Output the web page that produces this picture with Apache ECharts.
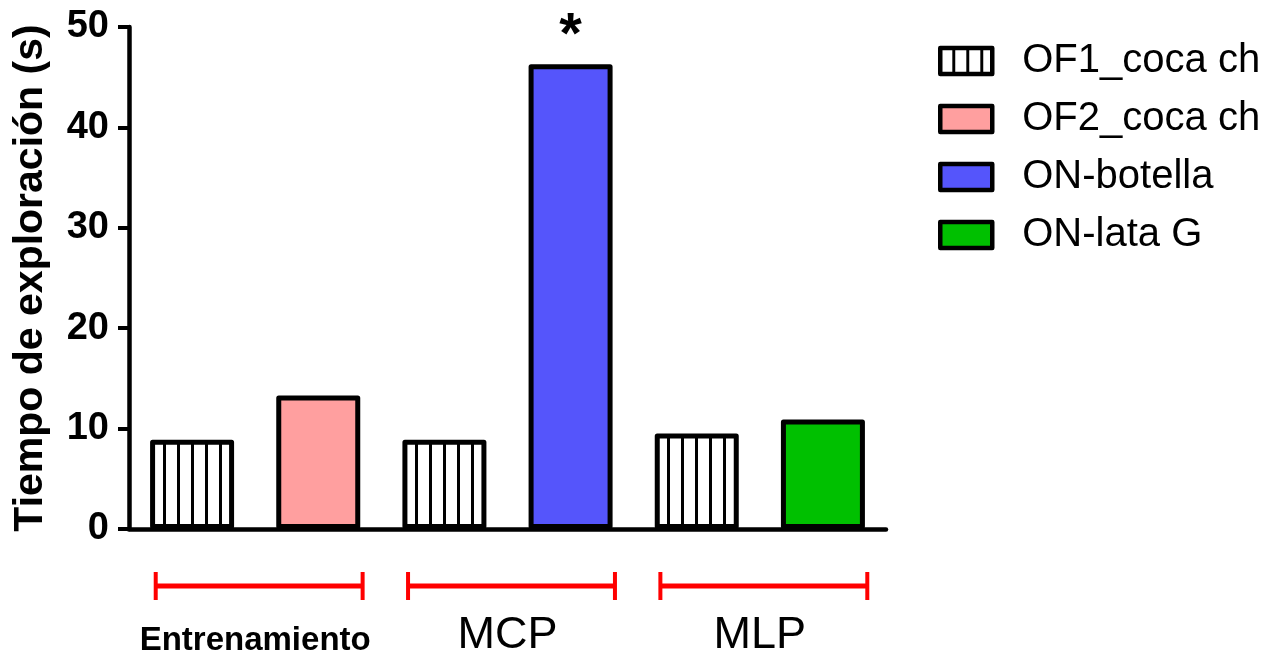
<!DOCTYPE html>
<html>
<head>
<meta charset="utf-8">
<title>Tiempo de exploración</title>
<script src="https://cdn.jsdelivr.net/npm/echarts@6/dist/echarts.min.js"></script>
<style>
  html, body { margin: 0; padding: 0; background: #fff; }
  #chart { width: 1286px; height: 656px; }
</style>
</head>
<body>
<div id="chart"></div>
<script>
// Bar slots along the x axis (one per bar)
const slots = ['E-OF1', 'E-OF2', 'MCP-OF1', 'MCP-ON', 'MLP-OF1', 'MLP-ON'];

// Exploration time (s) per series; '-' where the series has no bar
const seriesNames = ['OF1_coca ch', 'OF2_coca ch', 'ON-botella', 'ON-lata G'];
const of1Values = [8.9, '-', 8.9, '-', 9.5, '-'];
const of2Values = ['-', 13.3, '-', '-', '-', '-'];
const botellaValues = ['-', '-', '-', 46.3, '-', '-'];
const lataValues = ['-', '-', '-', '-', '-', 10.9];

// Significance marker on the ON-botella bar
const sigSlot = 3;
const sigMark = '*';

// Y axis ticks
const yMin = 0, yMax = 50, yStep = 10;

// Phase brackets under the axis: [first slot, last slot]
const phaseSpans = [[0, 1], [2, 3], [4, 5]];
const phaseLabels = ['Entrenamiento', 'MCP', 'MLP'];

const FONT = '"Liberation Sans", Arial, Helvetica, sans-serif';

// Vertical black stripes on white, used for the OF1 bars
function stripePattern(offset) {
  const c = document.createElement('canvas');
  c.width = 14; c.height = 14;
  const g = c.getContext('2d');
  g.fillStyle = '#ffffff';
  g.fillRect(0, 0, 14, 14);
  g.fillStyle = '#000000';
  g.fillRect(offset, 0, 3, 14);
  if (offset + 3 > 14) g.fillRect(offset - 14, 0, 3, 14);
  if (offset < 0) g.fillRect(offset + 14, 0, 3, 14);
  return { image: c, repeat: 'repeat' };
}

const barFill = [stripePattern(9), '#ff9f9f', '#5555fb', '#00c000'];
const barData = [of1Values, of2Values, botellaValues, lataValues];

const chart = echarts.init(document.getElementById('chart'), null, { renderer: 'canvas' });

const barSeries = seriesNames.map((name, k) => ({
  name: name,
  type: 'bar',
  barWidth: 84,
  barGap: '-100%',
  itemStyle: {
    color: barFill[k],
    borderColor: '#000',
    borderWidth: 5,
    borderJoin: 'round'
  },
  emphasis: { disabled: true },
  data: barData[k].map((v, i) => (i === sigSlot && v !== '-') ? {
    value: v,
    label: {
      show: true,
      position: 'top',
      formatter: sigMark,
      distance: -2,
      fontFamily: FONT,
      fontWeight: 'bold',
      fontSize: 58,
      color: '#000'
    }
  } : v)
}));

// Brackets and phase names, placed from the category scale
const phaseStyles = {
  'Entrenamiento': { font: 'bold 33px ' + FONT, dy: 112 },
  'default': { font: '45px ' + FONT, dy: 107 }
};

const phaseSeries = {
  type: 'custom',
  name: 'fases',
  clip: false,
  silent: true,
  data: phaseSpans,
  renderItem: function (params, api) {
    const a = api.coord([api.value(0), 0]);
    const b = api.coord([api.value(1), 0]);
    const cw = api.size([1, 0])[0];
    const mid = (a[0] + b[0]) / 2;
    const x0 = mid - cw * 0.82 + 4;
    const x1 = mid + cw * 0.82 + 4;
    const yl = a[1] + 57;
    const label = phaseLabels[params.dataIndex];
    const st = phaseStyles[label] || phaseStyles['default'];
    return {
      type: 'group',
      children: [
        { type: 'line', shape: { x1: x0, y1: yl, x2: x1, y2: yl }, style: { stroke: '#ff0000', lineWidth: 5 } },
        { type: 'line', shape: { x1: x0, y1: yl - 14, x2: x0, y2: yl + 14 }, style: { stroke: '#ff0000', lineWidth: 4 } },
        { type: 'line', shape: { x1: x1, y1: yl - 14, x2: x1, y2: yl + 14 }, style: { stroke: '#ff0000', lineWidth: 4 } },
        {
          type: 'text',
          x: mid,
          y: a[1] + st.dy,
          style: {
            text: label,
            font: st.font,
            fill: '#000',
            align: 'center',
            verticalAlign: 'middle'
          }
        }
      ]
    };
  }
};

chart.setOption({
  animation: false,
  backgroundColor: '#ffffff',
  grid: { left: 129, top: 27, width: 757, height: 502, containLabel: false },
  legend: {
    orient: 'vertical',
    left: 938,
    top: 41,
    padding: 0,
    icon: 'rect',
    itemWidth: 52,
    itemHeight: 26,
    itemGap: 18,
    selectedMode: false,
    itemStyle: { borderColor: '#000', borderWidth: 4.5 },
    data: seriesNames.map((n, k) => k === 0
      ? { name: n, itemStyle: { color: stripePattern(-2), borderColor: '#000', borderWidth: 4.5 } }
      : { name: n }),
    textStyle: {
      fontFamily: FONT,
      fontSize: 40,
      lineHeight: 40,
      color: '#000',
      padding: [0, 0, 0, 25]
    }
  },
  xAxis: {
    type: 'category',
    data: slots,
    axisLine: { lineStyle: { color: '#000', width: 4.5 } },
    axisTick: { alignWithLabel: true, length: 12, lineStyle: { color: '#000', width: 4 } },
    axisLabel: { show: false },
    splitLine: { show: false }
  },
  yAxis: {
    type: 'value',
    min: yMin,
    max: yMax,
    interval: yStep,
    name: 'Tiempo de exploración (s)',
    nameLocation: 'middle',
    nameRotate: 90,
    nameGap: 78,
    nameTextStyle: { fontFamily: FONT, fontWeight: 'bold', fontSize: 41, color: '#000' },
    axisLine: { show: true, lineStyle: { color: '#000', width: 4.5 } },
    axisTick: { show: true, length: 11, lineStyle: { color: '#000', width: 4 } },
    axisLabel: { margin: 20, fontFamily: FONT, fontWeight: 'bold', fontSize: 38, color: '#000' },
    splitLine: { show: false }
  },
  series: barSeries.concat([phaseSeries])
});
</script>
</body>
</html>
